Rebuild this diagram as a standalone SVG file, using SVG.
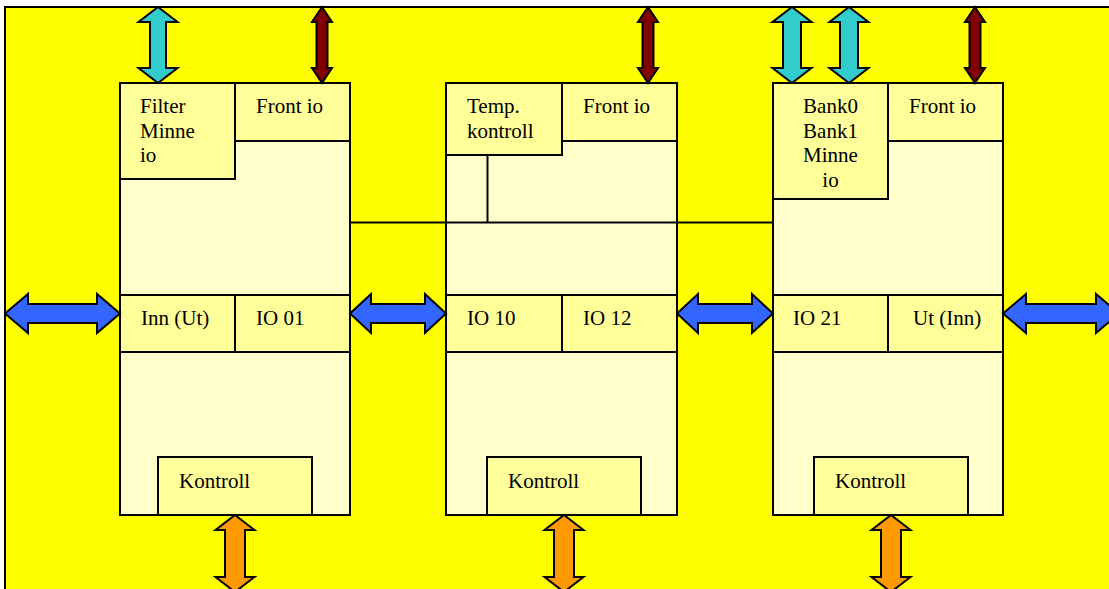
<svg xmlns="http://www.w3.org/2000/svg" width="1109" height="589" viewBox="0 0 1109 589">
<style>
.blk{fill:#FFFFCC;stroke:#000;stroke-width:2}
.box{fill:#FFFF99;stroke:#000;stroke-width:2}
.t{font-family:'Liberation Serif',serif;font-size:21px;fill:#000}
.tc{text-anchor:middle}
.arr{stroke:#000;stroke-width:2;stroke-linejoin:miter}
.cy{fill:#33CCCC}.rd{fill:#800000}.bl{fill:#3366FF}.or{fill:#FF9900}
.ln{stroke:#000;stroke-width:2;fill:none}
</style>
<rect x="0" y="0" width="1109" height="589" fill="#fff"/>
<rect x="5" y="7" width="1115" height="595" fill="#FFFF00" stroke="#000" stroke-width="2"/>

<g id="block1" font-family="'Liberation Serif', serif">
<rect class="blk" x="120" y="83" width="230" height="432"/>
<rect class="box" x="120" y="83" width="115" height="96"/>
<rect class="box" x="235" y="83" width="115" height="58"/>
<rect class="box" x="120" y="295" width="115" height="57"/>
<rect class="box" x="235" y="295" width="115" height="57"/>
<rect class="box" x="158" y="457" width="154" height="58"/>
<text class="t" x="140" y="113">Filter</text>
<text class="t" x="140" y="137.5">Minne</text>
<text class="t" x="140" y="162">io</text>
<text class="t" x="256" y="113">Front io</text>
<text class="t" x="141" y="325">Inn (Ut)</text>
<text class="t" x="256" y="325">IO 01</text>
<text class="t" x="179" y="488">Kontroll</text>
</g>

<g id="block2" font-family="'Liberation Serif', serif">
<rect class="blk" x="446" y="83" width="231" height="432"/>
<rect class="box" x="446" y="83" width="116" height="72"/>
<rect class="box" x="562" y="83" width="115" height="58"/>
<rect class="box" x="446" y="295" width="116" height="57"/>
<rect class="box" x="562" y="295" width="115" height="57"/>
<rect class="box" x="487" y="457" width="154" height="58"/>
<text class="t" x="467" y="113">Temp.</text>
<text class="t" x="467" y="138">kontroll</text>
<text class="t" x="583" y="113">Front io</text>
<text class="t" x="467" y="325">IO 10</text>
<text class="t" x="583" y="325">IO 12</text>
<text class="t" x="508" y="488">Kontroll</text>
</g>

<g id="block3" font-family="'Liberation Serif', serif">
<rect class="blk" x="773" y="83" width="230" height="432"/>
<rect class="box" x="773" y="83" width="115" height="116"/>
<rect class="box" x="888" y="83" width="115" height="58"/>
<rect class="box" x="773" y="295" width="115" height="57"/>
<rect class="box" x="888" y="295" width="115" height="57"/>
<rect class="box" x="814" y="457" width="154" height="58"/>
<text class="t tc" x="830.5" y="113">Bank0</text>
<text class="t tc" x="830.5" y="137.5">Bank1</text>
<text class="t tc" x="830.5" y="162">Minne</text>
<text class="t tc" x="830.5" y="186.5">io</text>
<text class="t" x="909" y="113">Front io</text>
<text class="t" x="793" y="325">IO 21</text>
<text class="t" x="913" y="325">Ut (Inn)</text>
<text class="t" x="835" y="488">Kontroll</text>
</g>

<g id="connectors">
<line class="ln" x1="350" y1="222.5" x2="773" y2="222.5"/>
<line class="ln" x1="487.5" y1="155" x2="487.5" y2="222.5"/>

<path class="arr cy" d="M158,7 L177.5,22 L166,22 L166,68 L177.5,68 L158,83 L138.5,68 L150,68 L150,22 L138.5,22 Z"/>
<path class="arr cy" d="M792,7 L811.5,22 L801,22 L801,68 L811.5,68 L792,83 L772.5,68 L783,68 L783,22 L772.5,22 Z"/>
<path class="arr cy" d="M849,7 L868.5,22 L858,22 L858,68 L868.5,68 L849,83 L829.5,68 L840,68 L840,22 L829.5,22 Z"/>

<path class="arr rd" d="M322,7 L332,22 L327.5,22 L327.5,68 L332,68 L322,83 L312,68 L316.5,68 L316.5,22 L312,22 Z"/>
<path class="arr rd" d="M648,7 L658,22 L653.5,22 L653.5,68 L658,68 L648,83 L638,68 L642.5,68 L642.5,22 L638,22 Z"/>
<path class="arr rd" d="M975,7 L985,22 L980.5,22 L980.5,68 L985,68 L975,83 L965,68 L969.5,68 L969.5,22 L965,22 Z"/>

<path class="arr bl" d="M5,313.5 L28,294 L28,304 L97,304 L97,294 L120,313.5 L97,333 L97,323 L28,323 L28,333 Z"/>
<path class="arr bl" d="M350,313.5 L371,294 L371,304 L425,304 L425,294 L446,313.5 L425,333 L425,323 L371,323 L371,333 Z"/>
<path class="arr bl" d="M677,313.5 L698,294 L698,304 L752,304 L752,294 L773,313.5 L752,333 L752,323 L698,323 L698,333 Z"/>
<path class="arr bl" d="M1003,313.5 L1026,294 L1026,304 L1096,304 L1096,294 L1119,313.5 L1096,333 L1096,323 L1026,323 L1026,333 Z"/>

<path class="arr or" d="M235,515 L254.5,530 L245,530 L245,577 L254.5,577 L235,592 L215.5,577 L225,577 L225,530 L215.5,530 Z"/>
<path class="arr or" d="M564,515 L583.5,530 L574,530 L574,577 L583.5,577 L564,592 L544.5,577 L554,577 L554,530 L544.5,530 Z"/>
<path class="arr or" d="M891,515 L910.5,530 L901,530 L901,577 L910.5,577 L891,592 L871.5,577 L881,577 L881,530 L871.5,530 Z"/>
</g>
</svg>
